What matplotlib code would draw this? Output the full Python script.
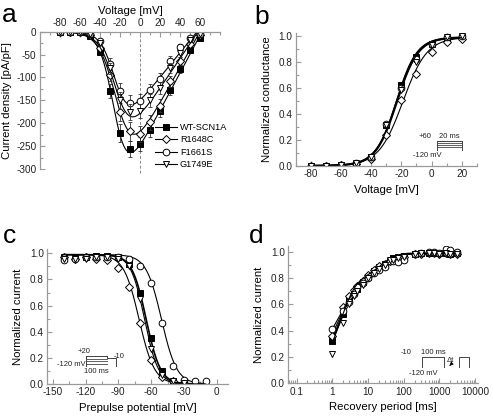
import matplotlib
matplotlib.use('Agg')
import matplotlib.pyplot as plt
import numpy as np
from matplotlib.ticker import MultipleLocator

plt.rcParams['font.family'] = ['Liberation Sans', 'DejaVu Sans']
plt.rcParams['axes.unicode_minus'] = False

names = ['WT-SCN1A', 'R1648C', 'F1661S', 'G1749E']
markers = ['s', 'D', 'o', 'v']
faces = ['k', 'w', 'w', 'w']
msizes = [4.5, 3.8, 4.8, 4.8]

# (a) current-voltage
v_a = [-80, -70, -60, -50, -40, -30, -20, -10, 0, 10, 20, 30, 40, 50, 60]
i_wt = [0, 0, 0, -10, -44, -129, -222, -256, -246, -215, -173, -127, -81, -40, -14]
i_r1648c = [0, 0, 0, -8, -35, -95, -175, -218, -223, -198, -162, -108, -64, -27, -7]
i_f1661s = [0, 0, 0, -4, -20, -70, -130, -156, -152, -128, -104, -64, -34, -14, -4]
i_g1749e = [0, 0, 0, -6, -25, -80, -150, -175, -173, -150, -123, -80, -47, -18, -5]
e_wt = [0, 0, 0, 3, 6, 15, 20, 17, 15, 16, 14, 12, 9, 7, 4]
e_r1648c = [0, 0, 0, 3, 6, 12, 20, 20, 18, 16, 14, 12, 9, 6, 3]
e_f1661s = [0, 0, 0, 2, 5, 12, 18, 18, 16, 14, 14, 11, 8, 5, 3]
e_g1749e = [0, 0, 0, 2, 5, 12, 18, 18, 16, 14, 14, 11, 8, 5, 3]
# fit: G, Erev, V1/2, k
fit_a = [(4.1, 62, -25, 7.0), (3.9, 60, -22, 8.4), (2.7, 57, -24, 7.0), (3.25, 58, -23, 8.0)]

# (b) activation
v_b = [-80, -70, -60, -50, -40, -30, -20, -10, 0, 10, 20]
g_wt = [0, 0, 0.005, 0.015, 0.07, 0.31, 0.62, 0.84, 0.94, 0.98, 0.99]
g_r1648c = [0, 0, 0.005, 0.01, 0.05, 0.24, 0.51, 0.71, 0.88, 0.95, 0.98]
g_f1661s = [0, 0, 0.005, 0.02, 0.07, 0.32, 0.60, 0.82, 0.94, 0.99, 1.0]
g_g1749e = [0, 0, 0.005, 0.02, 0.07, 0.31, 0.58, 0.80, 0.93, 0.99, 1.0]
fit_b = [(-23, 7.0), (-19, 8.0), (-23.5, 6.8), (-23, 7.2)]

# (c) steady-state inactivation
v_c = [-140, -130, -120, -110, -100, -90, -80, -70, -60, -50, -40, -30, -20, -10]
h_wt = [0.97, 0.97, 0.97, 0.98, 0.98, 0.97, 0.92, 0.70, 0.35, 0.10, 0.02, 0.01, None, None]
h_r1648c = [0.97, 0.96, 0.97, 0.96, 0.95, 0.89, 0.74, 0.47, 0.18, 0.05, 0.02, 0.01, None, None]
h_f1661s = [0.95, 0.96, 0.97, 0.97, 0.97, 0.97, 0.96, 0.90, 0.77, 0.47, 0.14, 0.03, 0.02, 0.02]
h_g1749e = [0.96, 0.96, 0.96, 0.97, 0.97, 0.96, 0.90, 0.65, 0.27, 0.07, 0.02, 0.01, None, None]
fit_c = [(-64.5, 6.5), (-71, 7.0), (-50.5, 7.0), (-66, 6.3)]

# (d) recovery from inactivation
t_d = [1, 2, 3, 4, 5, 7, 10, 15, 20, 30, 40, 50, 70, 100, 200, 300, 500, 700, 1000, 1500, 2000, 3000]
r_wt = [0.32, 0.53, 0.64, 0.69, 0.72, 0.77, 0.81, 0.85, 0.88, 0.91, 0.93, 0.95, 0.96, 0.97,
        0.98, 0.99, 0.99, 0.99, 0.99, 0.99, 0.98, 0.99]
r_r1648c = [0.36, 0.58, 0.66, 0.71, 0.74, 0.78, 0.82, 0.86, 0.89, 0.91, 0.93, 0.94, 0.95, 0.96,
            0.98, 0.98, 0.99, 0.99, 0.98, 0.99, 0.98, 0.98]
r_f1661s = [0.41, 0.55, 0.62, 0.68, 0.73, 0.76, 0.80, 0.84, 0.86, 0.88, 0.93, 0.93, 0.92, 0.94,
            0.98, 0.99, 1.0, 1.0, 0.99, 1.02, 1.01, 1.0]
r_g1749e = [0.22, 0.46, 0.60, 0.66, 0.70, 0.75, 0.80, 0.84, 0.87, 0.90, 0.94, 0.94, 0.95, 0.96,
            0.98, 0.99, 0.99, 0.99, 0.98, 0.99, 0.98, 0.98]
# fit: A1, tau1, A2, tau2
fit_d = [(0.73, 1.65, 0.26, 25), (0.65, 1.6, 0.27, 22), (0.55, 1.5, 0.30, 25), (0.85, 1.5, 0.25, 22)]

# pulse protocols (time, voltage)
prot_b_t = [-7, 0, 0, 20, 20, 26]
prot_b_v = [-120, -120, 60, 60, -120, -120]
prot_b_levels = [60, 20, -20, -60]
prot_c_t = [-20, 0, 0, 100, 100, 145, 145, 170]
prot_c_v = [-120, -120, 20, 20, -10, -10, -120, -120]
prot_c_levels = [20, -15, -50, -85, -120]
prot_d_t = [-40, 0, 0, 100, 100, 170, 170, 215, 215, 245]
prot_d_v = [-120, -120, -10, -10, -120, -120, -10, -10, -120, -120]

W, H = 493, 418
SP = '#9a9a9a'
TXT = '#222222'
FS_TICK = 7.2
FS_LAB = 8.2
FS_INS = 5.5


def rect(x0, y0, x1, y1):
    return [x0 / W, 1 - y1 / H, (x1 - x0) / W, (y1 - y0) / H]


def style(ax):
    for s in ax.spines.values():
        s.set_color(SP)
        s.set_linewidth(0.9)
    ax.tick_params(which='both', direction='in', color=SP, labelcolor=TXT, labelsize=FS_TICK, width=0.8, pad=2.5)
    ax.tick_params(which='major', length=3.5)
    ax.tick_params(which='minor', length=2)


fig = plt.figure(figsize=(W / 100, H / 100), dpi=100)

# ---- a ----
ax = fig.add_axes(rect(40, 31.7, 220, 169))
style(ax)
ax.spines['bottom'].set_visible(False)
ax.spines['right'].set_visible(False)
ax.xaxis.tick_top()
ax.xaxis.set_label_position('top')
ax.axvline(0, ymin=-0.03, color='#888888', ls=(0, (3, 2)), lw=0.7, clip_on=False, zorder=0)
vv = np.linspace(-80, 60, 300)
for i, (y, e) in enumerate(zip([i_wt, i_r1648c, i_f1661s, i_g1749e], [e_wt, e_r1648c, e_f1661s, e_g1749e])):
    G, Er, Vh, k = fit_a[i]
    ax.plot(vv, G * (vv - Er) / (1 + np.exp((Vh - vv) / k)), color='k', lw=0.8)
    ax.errorbar(v_a, y, yerr=e, fmt='none', ecolor='#333333', elinewidth=0.6, capsize=1.5, capthick=0.6)
    ax.plot(v_a, y, ls='none', marker=markers[i], mfc=faces[i], mec='k', mew=0.7, ms=msizes[i])
hs = [plt.Line2D([], [], color='k', lw=0.8, marker=markers[i], mfc=faces[i], mec='k', mew=0.7, ms=msizes[i])
      for i in range(4)]
ax.legend(hs, names, loc='center left', bbox_to_anchor=(0.64, 0.167), frameon=False, fontsize=6.6,
          handlelength=2.4, labelspacing=0.38, handletextpad=0.3, borderpad=0, borderaxespad=0)
ax.set_xlim(-100, 80)
ax.set_ylim(-300, 0)
ax.set_xticks([-80, -60, -40, -20, 0, 20, 40, 60])
ax.xaxis.set_minor_locator(MultipleLocator(10))
ax.yaxis.set_major_locator(MultipleLocator(50))
ax.yaxis.set_minor_locator(MultipleLocator(25))
ax.set_xlabel('Voltage [mV]', fontsize=FS_LAB, labelpad=3)
ax.set_ylabel('Current density [pA/pF]', fontsize=FS_LAB, labelpad=3)

# ---- b ----
ax = fig.add_axes(rect(296, 33.4, 476.7, 165.7))
style(ax)
ax.spines['top'].set_visible(False)
ax.spines['right'].set_visible(False)
vv = np.linspace(-80, 20, 300)
for i, y in enumerate([g_wt, g_r1648c, g_f1661s, g_g1749e]):
    Vh, k = fit_b[i]
    ax.plot(vv, 0.99 / (1 + np.exp((Vh - vv) / k)), color='k', lw=1.6 if i == 0 else 0.8)
    ax.plot(v_b, y, ls='none', marker=markers[i], mfc=faces[i], mec='k', mew=0.7, ms=msizes[i])
ax.set_xlim(-90, 30)
ax.set_ylim(0, 1.02)
ax.set_xticks([-80, -60, -40, -20, 0, 20])
ax.xaxis.set_minor_locator(MultipleLocator(10))
ax.yaxis.set_major_locator(MultipleLocator(0.2))
ax.yaxis.set_minor_locator(MultipleLocator(0.1))
ax.set_xlabel('Voltage [mV]', fontsize=FS_LAB, labelpad=4)
ax.set_ylabel('Normalized conductance', fontsize=FS_LAB, labelpad=5)
ins = fig.add_axes(rect(427.7, 140.7, 470, 150.7))
ins.axis('off')
ins.plot(prot_b_t, prot_b_v, color='#444444', lw=0.7)
for lv in prot_b_levels:
    ins.plot([0, 20], [lv, lv], color='#444444', lw=0.6)
ins.set_xlim(-7, 26)
ins.set_ylim(-120, 60)
ins.text(-9, 75, '+60', fontsize=FS_INS, ha='center', va='bottom', color=TXT)
ins.text(9.5, 75, '20 ms', fontsize=FS_INS, ha='center', va='bottom', color=TXT)
ins.text(-7.5, -140, '-120 mV', fontsize=FS_INS, ha='center', va='top', color=TXT)

# ---- c ----
ax = fig.add_axes(rect(47.3, 249.4, 227.6, 384))
style(ax)
ax.spines['top'].set_visible(False)
ax.spines['right'].set_visible(False)
vv = np.linspace(-140, -10, 300)
for i, y in enumerate([h_wt, h_r1648c, h_f1661s, h_g1749e]):
    Vh, k = fit_c[i]
    ax.plot(vv, 0.99 / (1 + np.exp((vv - Vh) / k)), color='k', lw=1.2 if i == 0 else 0.8)
    yy = np.array([np.nan if val is None else val for val in y])
    ax.plot(v_c, yy, ls='none', marker=markers[i], mfc=faces[i], mec='k', mew=0.7, ms=msizes[i])
ax.set_xlim(-155, 10)
ax.set_ylim(0, 1.03)
ax.set_xticks([-150, -120, -90, -60, -30, 0])
ax.xaxis.set_minor_locator(MultipleLocator(15))
ax.yaxis.set_major_locator(MultipleLocator(0.2))
ax.yaxis.set_minor_locator(MultipleLocator(0.1))
ax.set_xlabel('Prepulse potential [mV]', fontsize=FS_LAB, labelpad=4)
ax.set_ylabel('Normalized current', fontsize=FS_LAB, labelpad=5)
ins = fig.add_axes(rect(81.7, 356, 121, 366.7))
ins.axis('off')
ins.plot(prot_c_t, prot_c_v, color='#444444', lw=0.7)
ins.plot([0, 0], [-120, 20], color='#444444', lw=0.7)
for lv in prot_c_levels:
    ins.plot([0, 100], [lv, lv], color='#444444', lw=0.6)
ins.set_xlim(-20, 170)
ins.set_ylim(-120, 20)
ins.text(-10, 35, '+20', fontsize=FS_INS, ha='center', va='bottom', color=TXT)
ins.text(-3, -90, '-120 mV', fontsize=FS_INS, ha='right', va='center', color=TXT)
ins.text(50, -135, '100 ms', fontsize=FS_INS, ha='center', va='top', color=TXT)
ins.text(160, 10, '-10', fontsize=FS_INS, ha='center', va='center', color=TXT)

# ---- d ----
ax = fig.add_axes(rect(288.3, 246.4, 478, 383.3))
style(ax)
ax.spines['top'].set_visible(False)
ax.spines['right'].set_visible(False)
tt = np.logspace(0, np.log10(3000), 300)
for i, y in enumerate([r_wt, r_r1648c, r_f1661s, r_g1749e]):
    A1, t1, A2, t2 = fit_d[i]
    ax.plot(tt, 0.985 - A1 * np.exp(-tt / t1) - A2 * np.exp(-tt / t2), color='k', lw=1.6 if i == 0 else 0.8)
    ax.plot(t_d, y, ls='none', marker=markers[i], mfc=faces[i], mec='k', mew=0.7, ms=msizes[i])
ax.set_xscale('log')
ax.set_xlim(0.058, 12000)
ax.set_ylim(0, 1.04)
ax.set_xticks([0.1, 1, 10, 100, 1000, 10000])
ax.set_xticklabels(['0.1', '1', '10', '100', '1000', '10000'])
ax.yaxis.set_major_locator(MultipleLocator(0.2))
ax.yaxis.set_minor_locator(MultipleLocator(0.1))
ax.set_xlabel('Recovery period [ms]', fontsize=FS_LAB, labelpad=4)
ax.set_ylabel('Normalized current', fontsize=FS_LAB, labelpad=5)
ins = fig.add_axes(rect(413.3, 356.7, 475, 368.3))
ins.axis('off')
ins.plot(prot_d_t, prot_d_v, color='#444444', lw=0.7)
ins.set_xlim(-40, 245)
ins.set_ylim(-120, -10)
ins.text(-50, -5, '-10', fontsize=FS_INS, ha='right', va='bottom', color=TXT)
ins.text(-4, -5, '100 ms', fontsize=FS_INS, ha='left', va='bottom', color=TXT)
ins.text(5, -135, '-120 mV', fontsize=FS_INS, ha='center', va='top', color=TXT)
ins.text(130, -45, '\u0394t', fontsize=FS_INS, ha='center', va='center', color=TXT)
ins.annotate('', xy=(118, -115), xytext=(138, -75),
             arrowprops=dict(arrowstyle='-|>', color='k', lw=0.6, mutation_scale=5))

# panel letters
for lab, x, y in [('a', 2, 3), ('b', 254, 5), ('c', 3, 224), ('d', 249, 224)]:
    fig.text(x / W, 1 - y / H, lab, fontsize=19, ha='left', va='top', color='k')

fig.savefig('out.png', dpi=100)
